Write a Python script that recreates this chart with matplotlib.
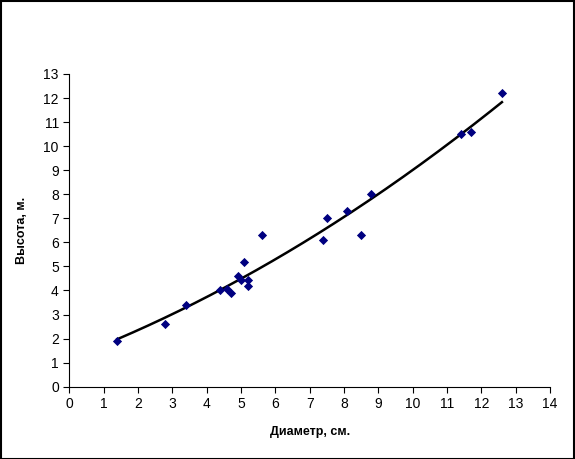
import numpy as np
import matplotlib
matplotlib.use("Agg")
import matplotlib.pyplot as plt

diameter = [1.4, 2.8, 3.4, 4.4, 4.6, 4.7, 4.9, 5.0, 5.2, 5.2, 5.1, 5.6,
            7.4, 7.5, 8.1, 8.5, 8.8, 11.4, 11.7, 12.6]
height = [1.9, 2.6, 3.4, 4.0, 4.05, 3.9, 4.6, 4.45, 4.45, 4.2, 5.2, 6.3,
          6.1, 7.0, 7.3, 6.3, 8.0, 10.5, 10.6, 12.2]
x_ticks = list(range(0, 15))
y_ticks = list(range(0, 14))

plt.rcParams['font.family'] = ['Liberation Sans', 'DejaVu Sans']

fig = plt.figure(figsize=(5.75, 4.59), dpi=100)
ax = fig.add_axes([0.1205, 0.1575, 0.836, 0.6813])

x = np.array(diameter)
y = np.array(height)
coef = np.polyfit(x, y, 2)
xs = np.linspace(x.min(), x.max(), 200)
ax.plot(xs, np.polyval(coef, xs), color='black', lw=1.8, zorder=2)
ax.scatter(x, y, marker='D', s=22, color='#000080', zorder=3, linewidths=0)

ax.set_xlim(0, 14)
ax.set_ylim(0, 13)
ax.set_xticks(x_ticks)
ax.set_yticks(y_ticks)
ax.tick_params(direction='out', length=4, width=0.8, labelsize=10, color='black')
for s in ['top', 'right']:
    ax.spines[s].set_visible(False)
for s in ['left', 'bottom']:
    ax.spines[s].set_linewidth(0.8)
ax.set_xlabel('Диаметр, см.', fontsize=9, fontweight='bold', labelpad=11)
ax.set_ylabel('Высота, м.', fontsize=9, fontweight='bold', labelpad=11)

fig.patches.append(plt.Rectangle((0.001, 0.001), 0.997, 0.997, transform=fig.transFigure,
                                 fill=False, edgecolor='black', lw=1.5))
fig.savefig('out.png', dpi=100)
